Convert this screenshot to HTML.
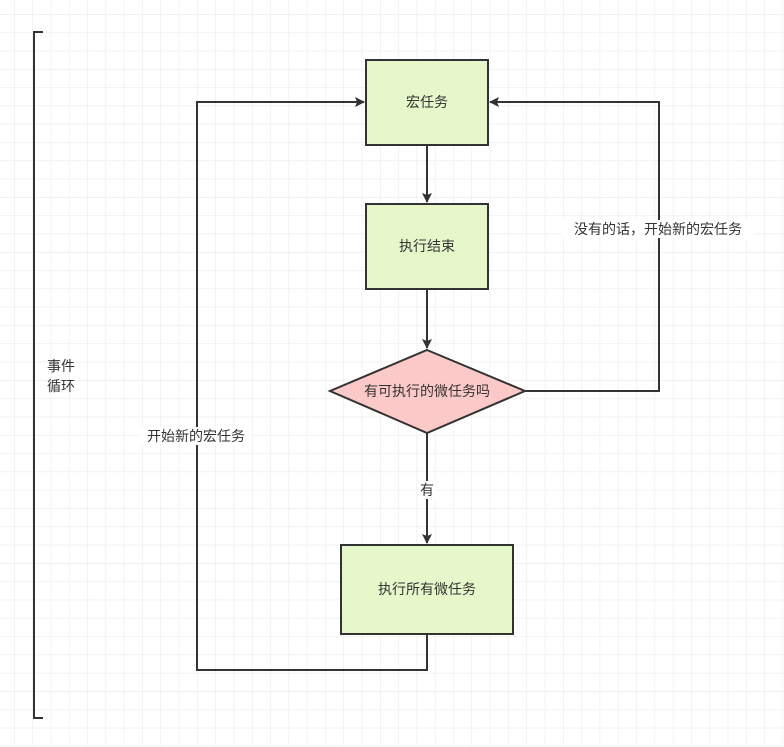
<!DOCTYPE html>
<html><head><meta charset="utf-8"><style>
html,body{margin:0;padding:0;background:#fff;}
svg{display:block;}
text{font-family:"Liberation Sans","Noto Sans CJK SC",sans-serif;font-size:14px;fill:#333;}
</style></head><body>
<svg width="784" height="747" viewBox="0 0 784 747" xmlns="http://www.w3.org/2000/svg">
<defs>
<pattern id="g" x="14" y="14" width="18.3" height="18.3" patternUnits="userSpaceOnUse">
<path d="M0 0H18.3M0 0V18.3" stroke="#ebebeb" stroke-width="1.2" fill="none"/>
</pattern>
<marker id="a" markerWidth="10" markerHeight="10" refX="9" refY="5" orient="auto" markerUnits="userSpaceOnUse">
<path d="M0 0L10 5L0 10L2 5Z" fill="#333"/>
</marker>
</defs>
<rect width="784" height="747" fill="url(#g)"/>
<!-- bracket -->
<path d="M43 32H34V718H43" stroke="#333" stroke-width="2" fill="none"/>
<text x="47" y="371">事件</text>
<text x="47" y="391">循环</text>
<!-- boxes -->
<rect x="366" y="60" width="122" height="85" fill="#e6f7c9" stroke="#333" stroke-width="2"/>
<text x="427" y="107" text-anchor="middle">宏任务</text>
<rect x="366" y="204" width="122" height="85" fill="#e6f7c9" stroke="#333" stroke-width="2"/>
<text x="427" y="251" text-anchor="middle">执行结束</text>
<path d="M427 350L525 391L427 433L330 391Z" fill="#fbc9c7" stroke="#333" stroke-width="2"/>
<text x="427" y="396" text-anchor="middle">有可执行的微任务吗</text>
<rect x="341" y="545" width="172" height="89" fill="#e6f7c9" stroke="#333" stroke-width="2"/>
<text x="427" y="594" text-anchor="middle">执行所有微任务</text>
<!-- arrows -->
<path d="M427 145V202" stroke="#333" stroke-width="2" fill="none" marker-end="url(#a)"/>
<path d="M427 289V348" stroke="#333" stroke-width="2" fill="none" marker-end="url(#a)"/>
<path d="M427 433V543" stroke="#333" stroke-width="2" fill="none" marker-end="url(#a)"/>
<rect x="418" y="481" width="18" height="18" fill="#fff"/>
<text x="427" y="495" text-anchor="middle">有</text>
<path d="M427 634V670H197V102H364" stroke="#333" stroke-width="2" fill="none" marker-end="url(#a)"/>
<rect x="140" y="427" width="112" height="18" fill="#fff"/>
<text x="196" y="441" text-anchor="middle">开始新的宏任务</text>
<path d="M525 391H659V102H490" stroke="#333" stroke-width="2" fill="none" marker-end="url(#a)"/>
<rect x="562" y="220" width="192" height="18" fill="#fff"/>
<text x="658" y="234" text-anchor="middle">没有的话，开始新的宏任务</text>
</svg>
</body></html>
